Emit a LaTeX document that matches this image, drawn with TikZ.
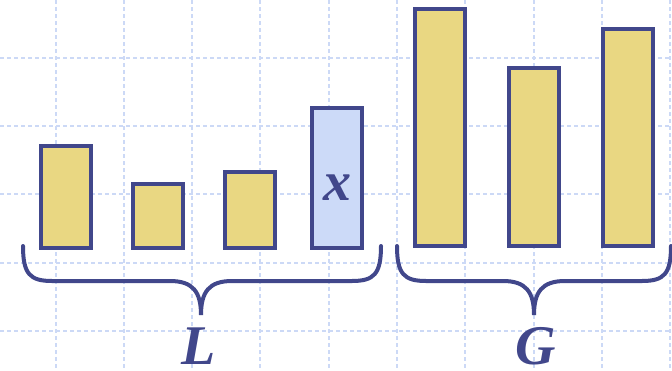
\documentclass[tikz,border=0pt]{standalone}
\usepackage{fontspec}
\setmainfont{Liberation Serif}
\usepackage{tikz}
\usetikzlibrary{positioning}
\definecolor{ink}{HTML}{41478B}
\definecolor{sand}{HTML}{E9D782}
\definecolor{paleblue}{HTML}{CCDAF8}
\definecolor{gridblue}{HTML}{CCD9F6}

\begin{document}
\begin{tikzpicture}[
      x=1pt, y=-1pt,
      bar/.style={draw=ink, line width=4pt, fill=sand, inner sep=0pt,
                  minimum width=50pt, anchor=south},
      brace/.style={draw=ink, line width=4pt, line cap=round},
      gridline/.style={draw=gridblue, line width=1.1pt, dash pattern=on 4pt off 3pt},
      lbl/.style={text=ink, inner sep=0pt, anchor=base,
                  font=\fontsize{56}{58}\selectfont\bfseries\itshape}
    ]
    \useasboundingbox (0,0) rectangle (672,370);

    % --- background grid ---------------------------------------------------
    \foreach \gx in {56,124,192,260,329,397,465,534,602,670}
      \draw[gridline] (\gx,0) -- (\gx,370);
    \foreach \gy in {58,126,194,263,331}
      \draw[gridline] (0,\gy) -- (672,\gy);

    % --- list L ------------------------------------------------------------
    \node[bar, minimum height=102pt] (l1) at (65.5,250) {};
    \node[bar, minimum height=64pt]  (l2) at (158,250)  {};
    \node[bar, minimum height=76pt]  (l3) at (250,250)  {};
    \node[bar, minimum height=140pt, fill=paleblue] (l4) at (337,250) {};
    \node[lbl] (xname) at ([yshift=-22pt]l4.center) {x};

    % --- list G ------------------------------------------------------------
    \node[bar, minimum height=237pt] (g1) at (440,248)   {};
    \node[bar, minimum height=178pt] (g2) at (534,248)   {};
    \node[bar, minimum height=217pt] (g3) at (627.5,248) {};

    % --- braces ------------------------------------------------------------
    \draw[brace] (23,246) .. controls (23,274) and (30,281) .. (52,281)
          -- (170,281) .. controls (193,281) and (201,292) .. (201,315)
          .. controls (201,292) and (209,281) .. (232,281)
          -- (352,281) .. controls (374,281) and (381,274) .. (381,246);
    \draw[brace] (397,246) .. controls (397,274) and (404,281) .. (426,281)
          -- (503,281) .. controls (526,281) and (534,292) .. (534,315)
          .. controls (534,292) and (542,281) .. (565,281)
          -- (642,281) .. controls (664,281) and (671,274) .. (671,246);

    % --- names -------------------------------------------------------------
    \node[lbl] (lname) at (199,364) {L};
    \node[lbl] (gname) at (536,364) {G};
  \end{tikzpicture}
\end{document}
